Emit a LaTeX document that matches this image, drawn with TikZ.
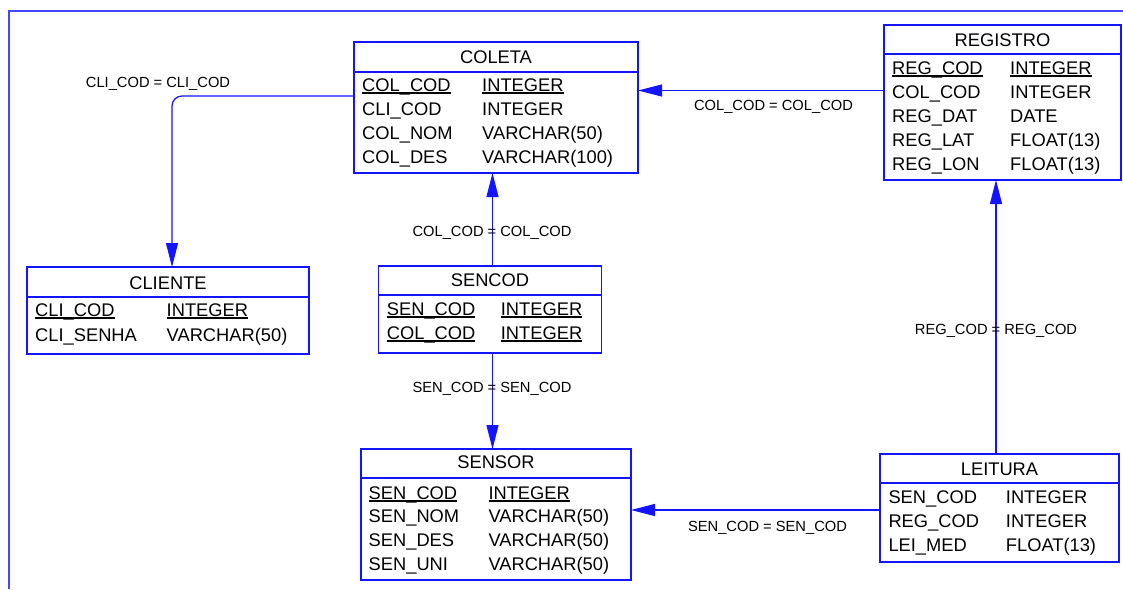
\documentclass[tikz,border=0pt]{standalone}
\usepackage{fontspec}
\setmainfont{Liberation Sans}
\usetikzlibrary{arrows.meta}
\definecolor{ercol}{RGB}{20,20,255}
\definecolor{framecol}{RGB}{70,70,255}
\newcommand\tabfont{\fontsize{18.3}{20}\selectfont}
\newcommand\lblfont{\fontsize{14.7}{16}\selectfont}
\newcommand\ulx[1]{\setbox0\hbox{#1}\rlap{\rule[-2.6pt]{\wd0}{1.9pt}}\box0}
\newcommand\fieldrow[6]{\node[fld] (#1a) at (#2,#3) {#5}; \node[fld] (#1b) at (#4,#3) {#6};}
\tikzset{
  tbl/.style={draw=ercol, line width=1.2pt, inner sep=0pt, outer sep=0pt, anchor=north west},
  hline/.style={draw=ercol, line width=1.2pt},
  fld/.style={anchor=base west, inner sep=0pt, font=\tabfont, text=black},
  ttl/.style={anchor=base, inner sep=0pt, font=\tabfont, text=black},
  lbl/.style={anchor=base, inner sep=0pt, font=\lblfont, text=black},
  conn/.style={draw=ercol, line width=1.2pt, -{Triangle[length=24pt,width=12pt]}},
}
\begin{document}
\begin{tikzpicture}[x=1pt,y=-1pt]
\useasboundingbox (0,0) rectangle (1123,589);
\fill[white] (0,0) rectangle (1123,589);
\draw[framecol, line width=1.3pt] (9,589) -- (9,11) -- (1123,11);

% COLETA
\node[tbl, minimum width=284pt, minimum height=131pt] (coleta) at (354,42) {};
\draw[hline] ([yshift=-30pt]coleta.north west) -- ([yshift=-30pt]coleta.north east);
\node[ttl] (coletat) at (496,63) {COLETA};
\fieldrow{col1}{362}{91.5}{482}{\ulx{COL\_COD}}{\ulx{INTEGER}}
\fieldrow{col2}{362}{115.5}{482}{CLI\_COD}{INTEGER}
\fieldrow{col3}{362}{139.5}{482}{COL\_NOM}{VARCHAR(50)}
\fieldrow{col4}{362}{163.5}{482}{COL\_DES}{VARCHAR(100)}

% REGISTRO
\node[tbl, minimum width=237pt, minimum height=155pt] (registro) at (884,25) {};
\draw[hline] ([yshift=-29pt]registro.north west) -- ([yshift=-29pt]registro.north east);
\node[ttl] (registrot) at (1002.5,46) {REGISTRO};
\fieldrow{reg1}{892}{74.3}{1010}{\ulx{REG\_COD}}{\ulx{INTEGER}}
\fieldrow{reg2}{892}{98.3}{1010}{COL\_COD}{INTEGER}
\fieldrow{reg3}{892}{122.3}{1010}{REG\_DAT}{DATE}
\fieldrow{reg4}{892}{146.3}{1010}{REG\_LAT}{FLOAT(13)}
\fieldrow{reg5}{892}{170.3}{1010}{REG\_LON}{FLOAT(13)}

% CLIENTE
\node[tbl, minimum width=282pt, minimum height=87pt] (cliente) at (27,267) {};
\draw[hline] ([yshift=-30pt]cliente.north west) -- ([yshift=-30pt]cliente.north east);
\node[ttl] (clientet) at (168,289.3) {CLIENTE};
\fieldrow{cli1}{35}{316.7}{166.5}{\ulx{CLI\_COD}}{\ulx{INTEGER}}
\fieldrow{cli2}{35}{341}{166.5}{CLI\_SENHA}{VARCHAR(50)}

% SENCOD
\node[tbl, minimum width=223pt, minimum height=87pt] (sencod) at (378.5,266) {};
\draw[hline] ([yshift=-29pt]sencod.north west) -- ([yshift=-29pt]sencod.north east);
\node[ttl] (sencodt) at (490,286.7) {SENCOD};
\fieldrow{sc1}{386.7}{315}{500.7}{\ulx{SEN\_COD}}{\ulx{INTEGER}}
\fieldrow{sc2}{386.7}{339}{500.7}{\ulx{COL\_COD}}{\ulx{INTEGER}}

% SENSOR
\node[tbl, minimum width=270pt, minimum height=131pt] (sensor) at (361,449) {};
\draw[hline] ([yshift=-29pt]sensor.north west) -- ([yshift=-29pt]sensor.north east);
\node[ttl] (sensort) at (496,468.3) {SENSOR};
\fieldrow{sen1}{368.5}{499.3}{488.3}{\ulx{SEN\_COD}}{\ulx{INTEGER}}
\fieldrow{sen2}{368.5}{522.5}{488.3}{SEN\_NOM}{VARCHAR(50)}
\fieldrow{sen3}{368.5}{546}{488.3}{SEN\_DES}{VARCHAR(50)}
\fieldrow{sen4}{368.5}{570}{488.3}{SEN\_UNI}{VARCHAR(50)}

% LEITURA
\node[tbl, minimum width=239pt, minimum height=108pt] (leitura) at (880,454) {};
\draw[hline] ([yshift=-29pt]leitura.north west) -- ([yshift=-29pt]leitura.north east);
\node[ttl] (leiturat) at (999.5,475) {LEITURA};
\fieldrow{lei1}{888.3}{503.3}{1005.7}{SEN\_COD}{INTEGER}
\fieldrow{lei2}{888.3}{527.7}{1005.7}{REG\_COD}{INTEGER}
\fieldrow{lei3}{888.3}{551.7}{1005.7}{LEI\_MED}{FLOAT(13)}

% connectors
\draw[conn, rounded corners=10pt] ([yshift=11.5pt]coleta.west) -| ([xshift=4pt]cliente.north);
\coordinate (rc) at ([yshift=12pt]registro.west);
\draw[conn] (rc) -- (rc -| coleta.east);
\coordinate (sca) at ([xshift=2.5pt]sencod.north);
\draw[conn] (sca) -- (sca |- coleta.south);
\coordinate (scb) at ([xshift=2.5pt]sencod.south);
\draw[conn] (scb) -- (scb |- sensor.north);
\coordinate (lta) at ([xshift=-3.5pt]leitura.north);
\draw[conn] (lta) -- (lta |- registro.south);
\coordinate (ltb) at ([yshift=-2pt]leitura.west);
\draw[conn] (ltb) -- (ltb -| sensor.east);

% labels
\node[lbl] (l1) at (158,87.3) {CLI\_COD = CLI\_COD};
\node[lbl] (l2) at (773.5,110) {COL\_COD = COL\_COD};
\node[lbl] (l3) at (492,236) {COL\_COD = COL\_COD};
\node[lbl] (l4) at (492,392.7) {SEN\_COD = SEN\_COD};
\node[lbl] (l5) at (996,334.3) {REG\_COD = REG\_COD};
\node[lbl] (l6) at (767.5,531.7) {SEN\_COD = SEN\_COD};
\end{tikzpicture}
\end{document}
